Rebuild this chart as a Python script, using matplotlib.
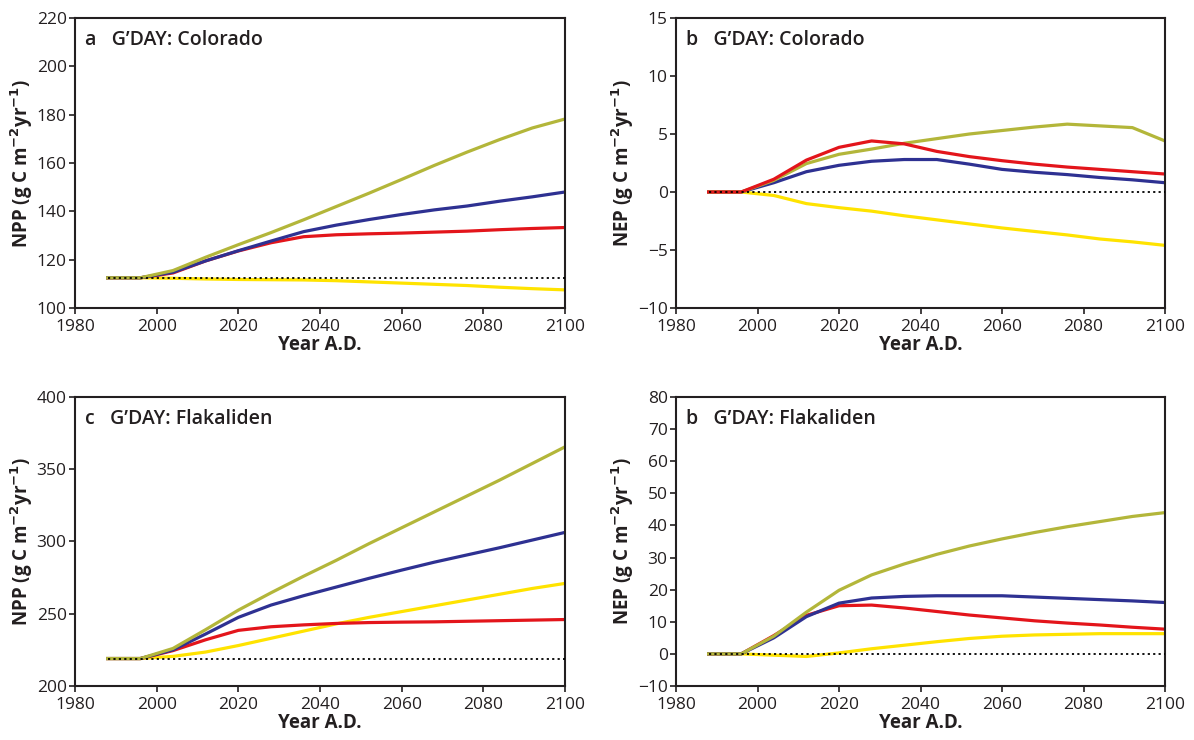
import matplotlib
matplotlib.use("Agg")
import matplotlib.pyplot as plt

years = [1988, 1996, 2004, 2012, 2020, 2028, 2036, 2044, 2052, 2060, 2068, 2076, 2084, 2092, 2100]

# Panel a: NPP Colorado
a_base = 112.5
a_olive = [112.5, 112.5, 115.5, 121, 126.2, 131.2, 136.5, 142, 147.5, 153.2, 159, 164.5, 169.7, 174.5, 178.2]
a_blue = [112.5, 112.5, 114.8, 119.5, 123.7, 127.7, 131.6, 134.3, 136.6, 138.7, 140.6, 142.2, 144.2, 146, 148]
a_red = [112.5, 112.5, 114.5, 119.5, 123.6, 127.0, 129.5, 130.3, 130.7, 131.0, 131.4, 131.8, 132.4, 132.9, 133.3]
a_yellow = [112.5, 112.5, 112.3, 112.0, 111.8, 111.7, 111.6, 111.3, 110.8, 110.3, 109.8, 109.3, 108.6, 108.0, 107.5]

# Panel b: NEP Colorado
b_base = 0.0
b_olive = [0, 0, 1.0, 2.45, 3.25, 3.7, 4.2, 4.6, 5.0, 5.3, 5.6, 5.85, 5.7, 5.55, 4.4]
b_red = [0, 0, 1.1, 2.75, 3.85, 4.4, 4.15, 3.5, 3.05, 2.7, 2.4, 2.15, 1.95, 1.75, 1.55]
b_blue = [0, 0, 0.8, 1.75, 2.3, 2.65, 2.8, 2.8, 2.4, 1.95, 1.7, 1.5, 1.25, 1.05, 0.8]
b_yellow = [0, 0, -0.3, -1.0, -1.35, -1.65, -2.05, -2.4, -2.75, -3.1, -3.4, -3.7, -4.05, -4.3, -4.6]

# Panel c: NPP Flakaliden
c_base = 219.0
c_olive = [219, 219, 226, 239, 252.5, 264.5, 276, 287, 298.5, 309.5, 320.5, 331.5, 342.5, 354, 365.5]
c_blue = [219, 219, 225, 236, 247.5, 256, 262.5, 268.5, 274.5, 280.2, 285.7, 290.7, 295.7, 301, 306.3]
c_red = [219, 219, 224.5, 232, 238.5, 241, 242.3, 243.3, 243.9, 244.2, 244.4, 244.8, 245.2, 245.6, 246]
c_yellow = [219, 219, 220.5, 223.5, 228, 233, 238, 243, 247.5, 251.5, 255.5, 259.5, 263.5, 267.5, 271]

# Panel d: NEP Flakaliden
d_base = 0.0
d_olive = [0, 0, 5.5, 13.0, 19.8, 24.6, 28.0, 31.0, 33.6, 35.8, 37.8, 39.6, 41.2, 42.8, 44.0]
d_blue = [0, 0, 5.0, 11.6, 15.8, 17.4, 17.9, 18.1, 18.1, 18.1, 17.7, 17.3, 16.9, 16.5, 16.0]
d_red = [0, 0, 5.7, 12.0, 15.0, 15.2, 14.3, 13.2, 12.1, 11.2, 10.3, 9.6, 9.0, 8.3, 7.7]
d_yellow = [0, 0, -0.4, -0.8, 0.3, 1.6, 2.7, 3.8, 4.8, 5.5, 5.9, 6.1, 6.3, 6.3, 6.3]

OLIVE = "#b3b63a"
BLUE = "#2e3192"
RED = "#e3151b"
YELLOW = "#ffe300"
INK = "#231f20"

plt.rcParams['font.family'] = ['Open Sans', 'DejaVu Sans']

fig = plt.figure(figsize=(11.94, 7.40), dpi=100)

panels = [
    dict(rect=[75/1194, 1-308/740, 490/1194, 290/740], ylim=(100, 220), yticks=range(100, 221, 20),
         ylabel="NPP", title="a   G\u2019DAY: Colorado", base=a_base,
         series=[(a_yellow, YELLOW), (a_red, RED), (a_blue, BLUE), (a_olive, OLIVE)]),
    dict(rect=[676/1194, 1-308/740, 489/1194, 290/740], ylim=(-10, 15), yticks=range(-10, 16, 5),
         ylabel="NEP", title="b   G\u2019DAY: Colorado", base=b_base,
         series=[(b_yellow, YELLOW), (b_blue, BLUE), (b_olive, OLIVE), (b_red, RED)]),
    dict(rect=[75/1194, 1-686/740, 490/1194, 289/740], ylim=(200, 400), yticks=range(200, 401, 50),
         ylabel="NPP", title="c   G\u2019DAY: Flakaliden", base=c_base,
         series=[(c_yellow, YELLOW), (c_red, RED), (c_blue, BLUE), (c_olive, OLIVE)]),
    dict(rect=[676/1194, 1-686/740, 489/1194, 289/740], ylim=(-10, 80), yticks=range(-10, 81, 10),
         ylabel="NEP", title="b   G\u2019DAY: Flakaliden", base=d_base,
         series=[(d_yellow, YELLOW), (d_red, RED), (d_blue, BLUE), (d_olive, OLIVE)]),
]

for p in panels:
    ax = fig.add_axes(p["rect"])
    ax.plot([years[0], years[-1]], [p["base"], p["base"]], color="black", lw=1.3,
            linestyle=(0, (1.2, 1.8)), zorder=3)
    for vals, col in p["series"]:
        ax.plot(years, vals, color=col, lw=2.3, zorder=2, solid_joinstyle="round")
    ax.set_xlim(1980, 2100)
    ax.set_ylim(*p["ylim"])
    ax.set_xticks(range(1980, 2101, 20))
    ax.set_yticks(list(p["yticks"]))
    ax.set_yticklabels([str(v).replace("-", "\u2212") for v in p["yticks"]])
    ax.tick_params(direction="out", length=4, width=1.2, labelsize=12.5, colors=INK)
    ax.tick_params(axis="x", pad=4)
    ax.tick_params(axis="y", pad=2)
    for s in ax.spines.values():
        s.set_linewidth(1.5)
        s.set_color(INK)
    ax.set_xlabel("Year A.D.", fontsize=13.5, fontweight="bold", labelpad=0, color=INK)
    ax.set_ylabel(p["ylabel"] + r" (g C m$^{\mathbf{-2}}$yr$^{\mathbf{-1}}$)", fontsize=13.5,
                  fontweight="bold", labelpad=1, color=INK)
    ax.text(0.02, 0.925, p["title"], transform=ax.transAxes, fontsize=14,
            fontweight="semibold", va="center", ha="left", color=INK)

fig.savefig("out.png", dpi=100)
